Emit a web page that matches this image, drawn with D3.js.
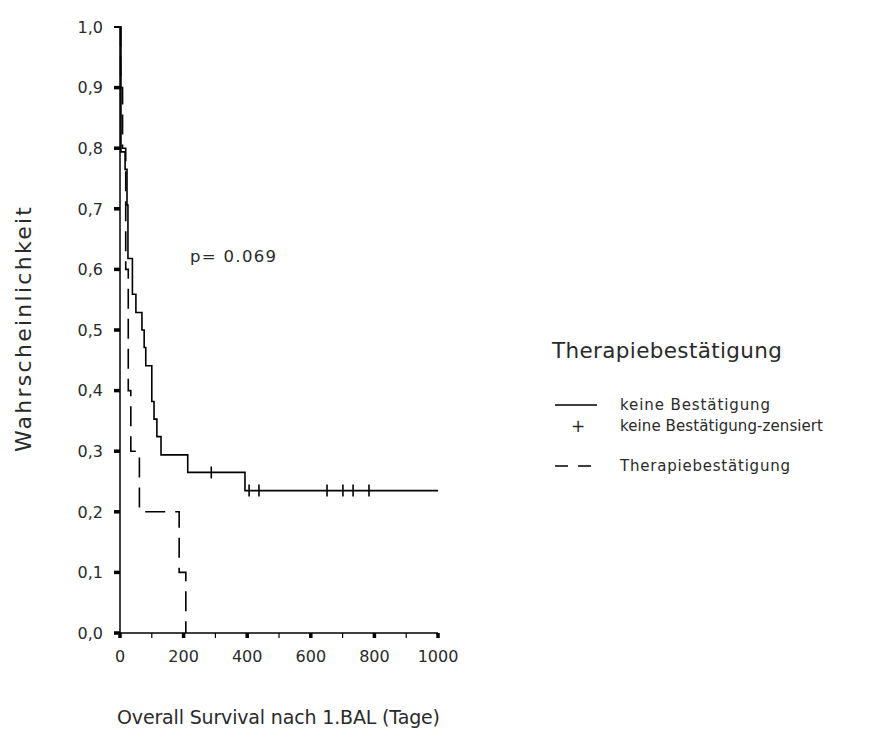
<!DOCTYPE html>
<html><head><meta charset="utf-8">
<script src="https://cdn.jsdelivr.net/npm/d3@7"></script>
<style>body{margin:0;background:#fff}svg{display:block}</style>
</head><body>
<svg id="c" width="883" height="737"></svg>
<script>
// ---- data ----
const solidTimes = [0, 3, 16, 22, 25, 39, 50, 69, 76, 81, 100, 107, 116, 129, 213, 393, 1000];
const solidSurv  = [1.0, 0.794, 0.765, 0.706, 0.618, 0.559, 0.529, 0.5, 0.471, 0.441, 0.382, 0.353, 0.324, 0.294, 0.265, 0.235, 0.235];
const censorTimes = [287, 406, 437, 651, 701, 733, 783];
const dashTimes = [0, 2, 8, 18, 26, 34, 61, 186, 207];
const dashSurv  = [1.0, 0.9, 0.8, 0.6, 0.4, 0.3, 0.2, 0.1, 0.0];
const xTicks = [0, 100, 200, 300, 400, 500, 600, 700, 800, 900, 1000];
const xLabels = [0, 200, 400, 600, 800, 1000];
const yTicks = [0, 0.1, 0.2, 0.3, 0.4, 0.5, 0.6, 0.7, 0.8, 0.9, 1.0];
const pText = "p= 0.069";
const xTitle = "Overall Survival nach 1.BAL (Tage)";
const yTitle = "Wahrscheinlichkeit";
const legendTitle = "Therapiebestätigung";
const legendLabels = ["keine Bestätigung", "keine Bestätigung-zensiert", "Therapiebestätigung"];

const svg = d3.select("#c");
const FONT = "'DejaVu Sans', 'Liberation Sans', Arial, sans-serif";
const TXT = "#2a2a2a";
const x = d3.scaleLinear().domain([0, 1000]).range([120, 438]);
const y = d3.scaleLinear().domain([0, 1]).range([633, 27]);

// axes
const g = svg.append("g");
g.append("line").attr("x1", x(0)).attr("x2", x(0)).attr("y1", y(1)).attr("y2", y(0))
  .attr("stroke", "#000").attr("stroke-width", 1.5);
g.append("line").attr("x1", x(0)).attr("x2", x(1000)).attr("y1", y(0)).attr("y2", y(0))
  .attr("stroke", "#000").attr("stroke-width", 1.5);
yTicks.forEach(v => {
  g.append("line").attr("x1", x(0) - 6).attr("x2", x(0)).attr("y1", y(v)).attr("y2", y(v))
    .attr("stroke", "#000").attr("stroke-width", v === 1 ? 2 : 3.5);
  g.append("text").attr("x", 103).attr("y", y(v)).attr("dy", "0.36em")
    .attr("text-anchor", "end").attr("font-family", FONT).attr("font-size", 16)
    .attr("fill", TXT).text(d3.format(".1f")(v).replace(".", ","));
});
xTicks.forEach(v => {
  const lab = xLabels.includes(v);
  g.append("line").attr("x1", x(v)).attr("x2", x(v)).attr("y1", y(0)).attr("y2", y(0) + 5)
    .attr("stroke", "#000").attr("stroke-width", lab ? 3.5 : 1.2);
});
xLabels.forEach(v => {
  g.append("text").attr("x", x(v)).attr("y", 662).attr("text-anchor", "middle")
    .attr("font-family", FONT).attr("font-size", 16).attr("fill", TXT).text(v);
});

// curves
const line = d3.line().x(d => x(d[0])).y(d => y(d[1])).curve(d3.curveStepAfter);
const solid = solidTimes.map((t, i) => [t, solidSurv[i]]);
const dash = dashTimes.map((t, i) => [t, dashSurv[i]]);
svg.append("path").attr("d", line(solid)).attr("fill", "none")
  .attr("stroke", "#000").attr("stroke-width", 1.6);
svg.append("path").attr("d", line(dash)).attr("fill", "none")
  .attr("stroke", "#000").attr("stroke-width", 1.6).attr("stroke-dasharray", "20,10");
function survAt(t) {
  let s = 1;
  for (let i = 0; i < solidTimes.length; i++) if (solidTimes[i] <= t) s = solidSurv[i];
  return s;
}
censorTimes.forEach(t => {
  svg.append("line").attr("x1", x(t)).attr("x2", x(t))
    .attr("y1", y(survAt(t)) - 6).attr("y2", y(survAt(t)) + 6)
    .attr("stroke", "#000").attr("stroke-width", 1.6);
});

// p value
svg.append("text").attr("x", 190).attr("y", 262).attr("font-family", FONT)
  .attr("font-size", 16.5).attr("fill", TXT).attr("textLength", 86)
  .attr("lengthAdjust", "spacing").text(pText);

// titles
svg.append("text").attr("x", 117).attr("y", 724).attr("font-family", FONT)
  .attr("font-size", 19).attr("fill", TXT).attr("textLength", 323)
  .attr("lengthAdjust", "spacing").text(xTitle);
svg.append("text").attr("transform", "translate(31,452) rotate(-90)")
  .attr("font-family", FONT).attr("font-size", 22).attr("fill", TXT)
  .attr("textLength", 245).attr("lengthAdjust", "spacing").text(yTitle);

// legend
svg.append("text").attr("x", 552).attr("y", 358).attr("font-family", FONT)
  .attr("font-size", 21.5).attr("fill", TXT).attr("textLength", 230)
  .attr("lengthAdjust", "spacing").text(legendTitle);
svg.append("line").attr("x1", 555).attr("x2", 597).attr("y1", 405).attr("y2", 405)
  .attr("stroke", "#000").attr("stroke-width", 1.6);
svg.append("text").attr("x", 578).attr("y", 426).attr("dy", "0.36em").attr("text-anchor", "middle")
  .attr("font-family", FONT).attr("font-size", 17).attr("fill", TXT).text("+");
svg.append("line").attr("x1", 555).attr("x2", 597).attr("y1", 466).attr("y2", 466)
  .attr("stroke", "#000").attr("stroke-width", 1.6).attr("stroke-dasharray", "13,10");
[405, 426, 466].forEach((yy, i) => {
  svg.append("text").attr("x", 620).attr("y", yy).attr("dy", "0.36em")
    .attr("font-family", FONT).attr("font-size", 15).attr("fill", TXT)
    .attr("textLength", [150, 203, 170][i]).attr("lengthAdjust", "spacing")
    .text(legendLabels[i]);
});
</script>
</body></html>
